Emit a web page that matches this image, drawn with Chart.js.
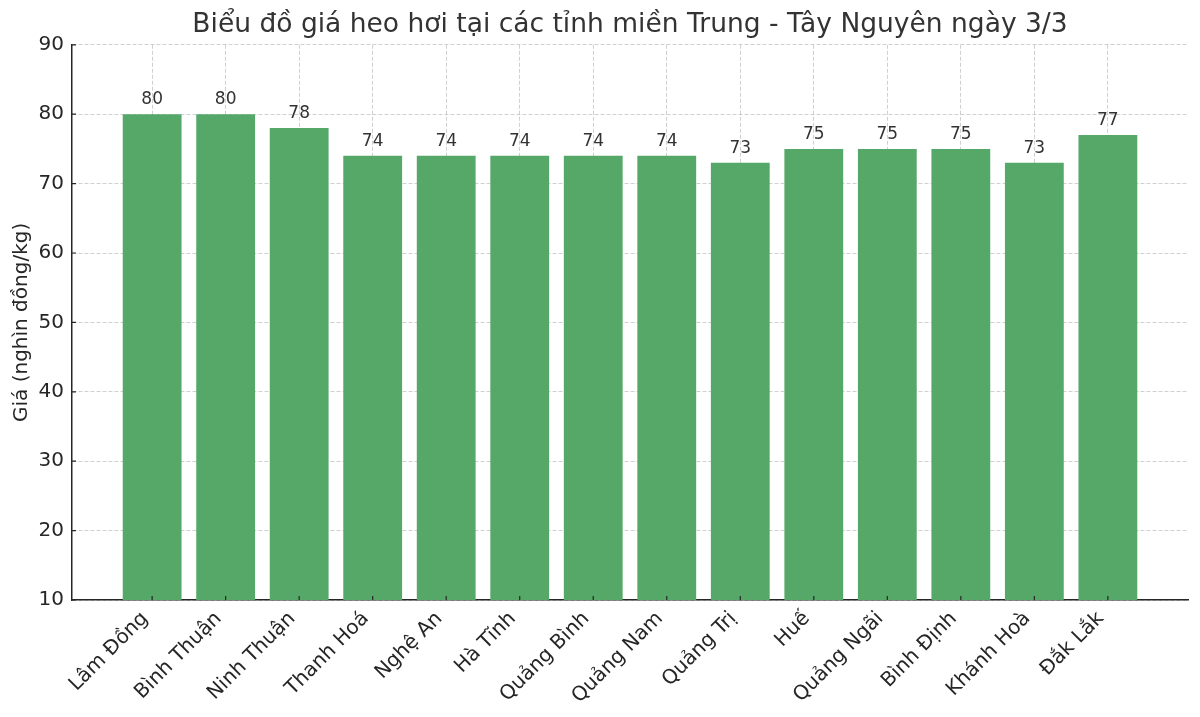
<!DOCTYPE html>
<html>
<head>
<meta charset="utf-8">
<script src="https://cdn.jsdelivr.net/npm/chart.js@4/dist/chart.umd.min.js"></script>
<style>
  html, body { margin: 0; padding: 0; background: #fff; }
  #wrap { width: 1200px; height: 717px; position: relative; }
</style>
</head>
<body>
<div id="wrap"><canvas id="chart"></canvas></div>
<script>
// Tỉnh / giá heo hơi (nghìn đồng/kg)
const provinces = ['Lâm Đồng', 'Bình Thuận', 'Ninh Thuận', 'Thanh Hoá', 'Nghệ An', 'Hà Tĩnh',
  'Quảng Bình', 'Quảng Nam', 'Quảng Trị', 'Huế', 'Quảng Ngãi', 'Bình Định', 'Khánh Hoà', 'Đắk Lắk'];
const prices = [80, 80, 78, 74, 74, 74, 74, 74, 73, 75, 75, 75, 73, 77];
const yTicks = [10, 20, 30, 40, 50, 60, 70, 80, 90];

const FONT = "'DejaVu Sans', sans-serif";
const barColor = '#55a868';
const gridColor = 'rgba(176,176,176,0.6)';
const axisColor = '#262626';

// value labels above each bar
const valueLabels = {
  id: 'valueLabels',
  afterDatasetsDraw(chart) {
    const ctx = chart.ctx;
    const meta = chart.getDatasetMeta(0);
    ctx.save();
    ctx.font = '17px ' + FONT;
    ctx.fillStyle = '#333333';
    ctx.textAlign = 'center';
    ctx.textBaseline = 'bottom';
    meta.data.forEach((bar, i) => {
      ctx.fillText(String(prices[i]), bar.x, bar.y - 6);
    });
    ctx.restore();
  }
};

// short inward tick marks on both axes
const innerTicks = {
  id: 'innerTicks',
  afterDraw(chart) {
    const { ctx, chartArea, scales } = chart;
    ctx.save();
    ctx.strokeStyle = axisColor;
    ctx.lineWidth = 1.2;
    ctx.beginPath();
    scales.x.ticks.forEach(t => {
      const px = scales.x.getPixelForValue(t.value);
      ctx.moveTo(px, chartArea.bottom);
      ctx.lineTo(px, chartArea.bottom - 4);
    });
    scales.y.ticks.forEach(t => {
      const py = scales.y.getPixelForValue(t.value);
      ctx.moveTo(chartArea.left, py);
      ctx.lineTo(chartArea.left + 4, py);
    });
    ctx.stroke();
    ctx.restore();
  }
};

const ctx = document.getElementById('chart');
new Chart(ctx, {
  type: 'bar',
  data: {
    datasets: [{
      data: prices.map((v, i) => ({ x: i, y: v })),
      backgroundColor: barColor,
      borderWidth: 0,
      barPercentage: 0.8,
      categoryPercentage: 1.0
    }]
  },
  options: {
    responsive: true,
    maintainAspectRatio: false,
    animation: false,
    layout: { padding: { left: 0, right: 12, top: 0, bottom: 0 } },
    plugins: {
      legend: { display: false },
      tooltip: { enabled: false },
      title: {
        display: true,
        fullSize: false,
        text: 'Biểu đồ giá heo hơi tại các tỉnh miền Trung - Tây Nguyên ngày 3/3',
        color: '#333333',
        font: { family: FONT, size: 26.5, weight: 'normal' },
        padding: { top: 9, bottom: 4 }
      }
    },
    scales: {
      x: {
        type: 'linear',
        offset: false,
        min: -1.09,
        max: 14.09,
        z: 1,
        afterBuildTicks: (scale) => {
          scale.ticks = provinces.map((_, i) => ({ value: i }));
        },
        afterFit: (scale) => { scale.height = 117; },
        ticks: {
          autoSkip: false,
          maxRotation: 45,
          minRotation: 45,
          padding: 7,
          labelOffset: -7,
          color: axisColor,
          font: { family: FONT, size: 20 },
          callback: (v) => provinces[v]
        },
        grid: { offset: false, color: gridColor, lineWidth: 1, drawTicks: false },
        border: { display: true, color: axisColor, width: 1.5, dash: [4, 2] }
      },
      y: {
        min: 10,
        max: 90,
        z: 1,
        afterBuildTicks: (scale) => {
          scale.ticks = yTicks.map(v => ({ value: v }));
        },
        afterFit: (scale) => { scale.width = 72; },
        ticks: {
          padding: 8,
          color: axisColor,
          font: { family: FONT, size: 20 }
        },
        grid: { color: gridColor, lineWidth: 1, drawTicks: false },
        border: { display: true, color: axisColor, width: 1.5, dash: [4, 2] },
        title: {
          display: true,
          text: 'Giá (nghìn đồng/kg)',
          color: axisColor,
          font: { family: FONT, size: 20 },
          padding: { top: 10, bottom: 0 }
        }
      }
    }
  },
  plugins: [valueLabels, innerTicks]
});
</script>
</body>
</html>
